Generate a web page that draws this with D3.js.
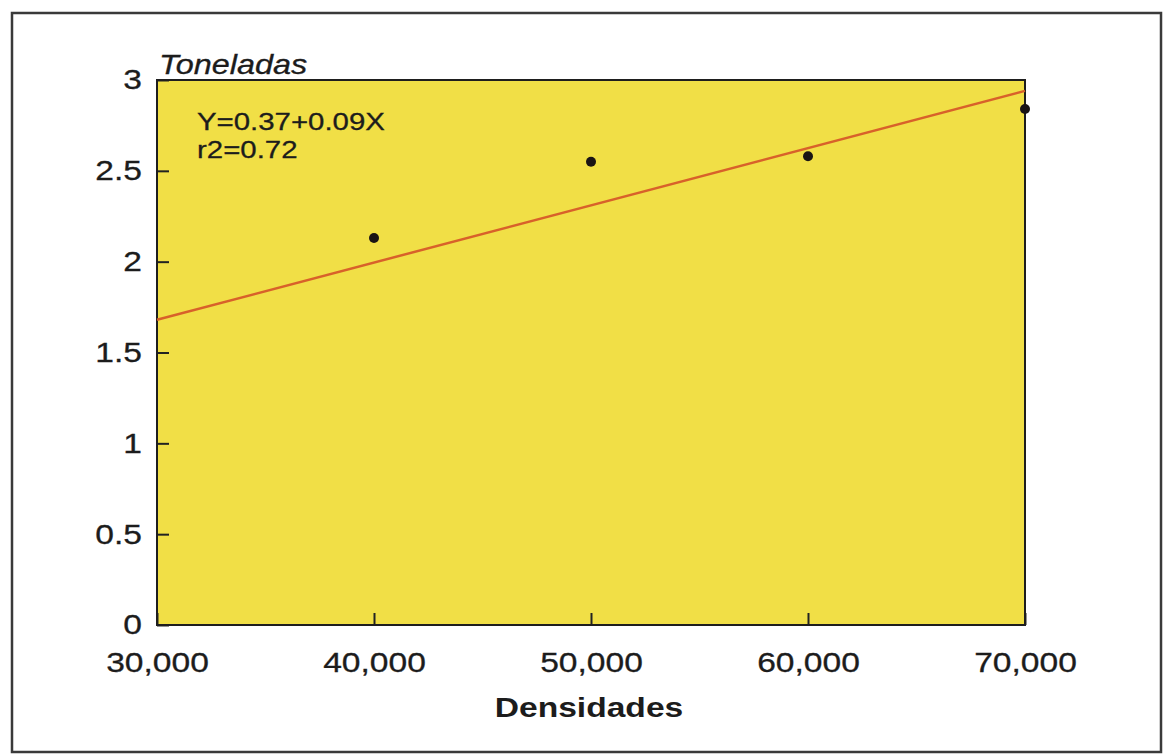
<!DOCTYPE html>
<html>
<head>
<meta charset="utf-8">
<script src="https://cdn.jsdelivr.net/npm/d3@7"></script>
<style>
  html, body { margin: 0; padding: 0; background: #fff; }
  svg { display: block; }
  .tick text { font-family: "Liberation Sans", Arial, sans-serif; font-size: 28px; fill: #1c1c1c; stroke: #1c1c1c; stroke-width: 0.3px; }
</style>
</head>
<body>
<svg id="chart" width="1167" height="755"></svg>
<script>
// --- data ---
const densidades = [40000, 50000, 60000, 70000];
const toneladas = [2.13, 2.55, 2.58, 2.84];
// regression line end points
const fitX = [30000, 70000];
const fitY = [1.68, 2.94];
const xTicks = [30000, 40000, 50000, 60000, 70000];
const yTicks = [0, 0.5, 1, 1.5, 2, 2.5, 3];
const equation = ["Y=0.37+0.09X", "r2=0.72"];

const svg = d3.select("#chart");
const font = '"Liberation Sans", Arial, sans-serif';
const stretch = 1.2; // the original type is set wide

// outer frame
svg.append("rect")
    .attr("x", 12).attr("y", 13)
    .attr("width", 1149).attr("height", 739)
    .attr("fill", "#fff")
    .attr("stroke", "#3a3a3a")
    .attr("stroke-width", 2.5);

const x = d3.scaleLinear().domain([30000, 70000]).range([157, 1025]);
const y = d3.scaleLinear().domain([0, 3]).range([625, 80]);

// plot background
svg.append("rect")
    .attr("x", x(30000)).attr("y", y(3))
    .attr("width", x(70000) - x(30000))
    .attr("height", y(0) - y(3))
    .attr("fill", "#f1df46");

// axes (ticks pointing inward)
const xAxis = svg.append("g")
    .attr("transform", `translate(0,${y(0)})`)
    .call(d3.axisBottom(x).tickValues(xTicks).tickSizeInner(-12).tickSizeOuter(0).tickPadding(27)
        .tickFormat(d3.format(",")));
xAxis.select(".domain").remove();
xAxis.selectAll(".tick line").attr("stroke", "#222").attr("stroke-width", 2);
xAxis.selectAll(".tick text").attr("transform", `scale(${stretch},1)`);

const yAxis = svg.append("g")
    .attr("transform", `translate(${x(30000)},0)`)
    .call(d3.axisLeft(y).tickValues(yTicks).tickSizeInner(-12).tickSizeOuter(0).tickPadding(12.5)
        .tickFormat(d => d));
yAxis.select(".domain").remove();
yAxis.selectAll(".tick line").attr("stroke", "#222").attr("stroke-width", 2);
yAxis.selectAll(".tick text").attr("transform", `scale(${stretch},1)`);

// plot border
svg.append("rect")
    .attr("x", x(30000)).attr("y", y(3))
    .attr("width", x(70000) - x(30000))
    .attr("height", y(0) - y(3))
    .attr("fill", "none")
    .attr("stroke", "#1e1e1e")
    .attr("stroke-width", 2);

// regression line
svg.append("path")
    .datum(fitX.map((d, i) => [d, fitY[i]]))
    .attr("fill", "none")
    .attr("stroke", "#d8612a")
    .attr("stroke-width", 2.5)
    .attr("d", d3.line().x(d => x(d[0])).y(d => y(d[1])));

// points
svg.append("g")
    .selectAll("circle")
    .data(densidades.map((d, i) => ({ x: d, y: toneladas[i] })))
    .join("circle")
    .attr("cx", d => x(d.x))
    .attr("cy", d => y(d.y))
    .attr("r", 5)
    .attr("fill", "#1a1414");

// stretched text helper
function label(px, py, txt) {
    return svg.append("text")
        .attr("transform", `translate(${px},${py}) scale(${stretch},1)`)
        .attr("font-family", font)
        .attr("fill", "#1c1c1c")
        .text(txt);
}

// equation
equation.forEach((t, i) => {
    label(197, 130 + i * 28, t)
        .attr("font-size", 24.5)
        .attr("stroke", "#1c1c1c").attr("stroke-width", 0.3);
});

// y title
label(159, 74, "Toneladas")
    .attr("font-size", 27)
    .attr("font-style", "italic")
    .attr("stroke", "#1c1c1c").attr("stroke-width", 0.3);

// x title
label(589, 717, "Densidades")
    .attr("text-anchor", "middle")
    .attr("font-size", 28)
    .attr("font-weight", "bold");
</script>
</body>
</html>
